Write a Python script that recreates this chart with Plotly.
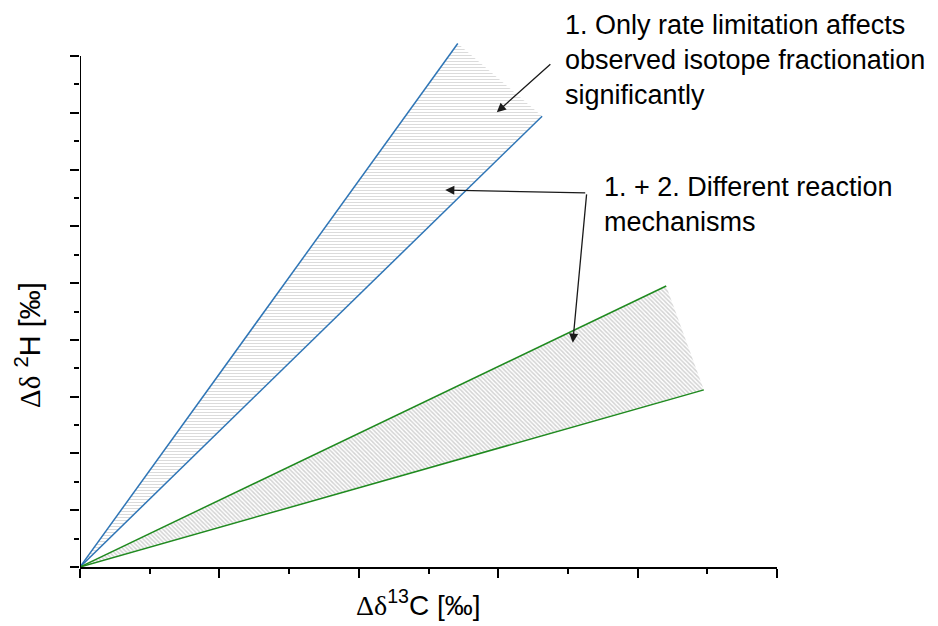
import plotly.graph_objects as go

# Line end points (data units: x = Δδ13C, y = Δδ2H)
blue_upper_end = [5.42, 9.22]
blue_lower_end = [6.63, 7.94]
green_upper_end = [8.41, 4.95]
green_lower_end = [8.95, 3.12]
origin = [0.0, 0.0]

BLUE = "#2e75b6"
GREEN = "#1f8a1f"
SANS = "Liberation Sans, Arial, sans-serif"
DD = "<span style=\"font-family:'Liberation Serif'\">Δδ</span>"

# page body has an 8px margin; figure is sized so it fits the 938x626 window
W, H = 930, 618
L, T = 72, 31
PW, PH = 697, 528

fig = go.Figure()

# hatched fill regions
fig.add_trace(go.Scatter(
    x=[origin[0], blue_upper_end[0], blue_lower_end[0], origin[0]],
    y=[origin[1], blue_upper_end[1], blue_lower_end[1], origin[1]],
    mode="lines", fill="toself", line=dict(width=0),
    fillcolor="rgba(0,0,0,0)",
    fillpattern=dict(shape="-", size=3, solidity=0.34, fgcolor="#b8b8b8", bgcolor="white"),
    hoverinfo="skip", showlegend=False))
fig.add_trace(go.Scatter(
    x=[origin[0], green_upper_end[0], green_lower_end[0], origin[0]],
    y=[origin[1], green_upper_end[1], green_lower_end[1], origin[1]],
    mode="lines", fill="toself", line=dict(width=0),
    fillcolor="rgba(0,0,0,0)",
    fillpattern=dict(shape="\\", size=3, solidity=0.5, fgcolor="#a8a8a8", bgcolor="white"),
    hoverinfo="skip", showlegend=False))

for end, col in [(blue_upper_end, BLUE), (blue_lower_end, BLUE),
                 (green_upper_end, GREEN), (green_lower_end, GREEN)]:
    fig.add_trace(go.Scatter(x=[origin[0], end[0]], y=[origin[1], end[1]],
                             mode="lines", line=dict(color=col, width=1.5),
                             hoverinfo="skip", showlegend=False))

arrow = dict(axref="x", ayref="y", xref="x", yref="y", showarrow=True, arrowhead=2,
             arrowsize=1.4, arrowwidth=1.3, arrowcolor="#1a1a1a", text="")
annotations = [
    dict(x=5.98, y=8.01, ax=6.77, ay=8.88, **arrow),
    dict(x=5.24, y=6.64, ax=7.27, ay=6.59, **arrow),
    dict(x=7.07, y=3.95, ax=7.27, ay=6.59, **arrow),
    dict(x=6.93, y=8.93, xref="x", yref="y", xanchor="left", yanchor="middle", align="left",
         showarrow=False, font=dict(size=27, color="black", family=SANS),
         text="1. Only rate limitation affects<br>observed isotope fractionation<br>significantly"),
    dict(x=7.49, y=6.39, xref="x", yref="y", xanchor="left", yanchor="middle", align="left",
         showarrow=False, font=dict(size=27, color="black", family=SANS),
         text="1. + 2. Different reaction<br>mechanisms"),
    # axis titles (screen coords converted to paper fractions)
    dict(x=(418 - 80) / PW, y=-(603 - 567) / PH, xref="paper", yref="paper",
         xanchor="center", yanchor="middle", showarrow=False,
         font=dict(size=28, color="black", family=SANS),
         text=DD + "<sup>13</sup>C [‰]"),
    dict(x=-(80 - 28) / PW, y=(567 - 345) / PH, xref="paper", yref="paper",
         xanchor="center", yanchor="middle", showarrow=False, textangle=-90,
         font=dict(size=29, color="black", family=SANS),
         text=DD + " <sup>2</sup>H [‰]"),
]

# y axis line only up to the top major tick
shapes = [dict(type="line", xref="x", yref="y", x0=0, x1=0, y0=0, y1=9,
               line=dict(color="black", width=2))]

fig.update_layout(
    width=W, height=H,
    margin=dict(l=L, r=W - L - PW, t=T, b=H - T - PH, autoexpand=False),
    plot_bgcolor="white", paper_bgcolor="white",
    showlegend=False,
    annotations=annotations, shapes=shapes,
    xaxis=dict(range=[0, 10], showgrid=False, zeroline=False, showline=True,
               linecolor="black", linewidth=2, ticks="outside", ticklen=9, tickwidth=2,
               tickcolor="black", dtick=2, tick0=0, showticklabels=False,
               minor=dict(dtick=1, tick0=0, ticks="outside", ticklen=5, tickwidth=2,
                          tickcolor="black", showgrid=False)),
    yaxis=dict(range=[0, 9.3], showgrid=False, zeroline=False, showline=False,
               ticks="outside", ticklen=9, tickwidth=2, tickcolor="black",
               dtick=1, tick0=0, showticklabels=False,
               minor=dict(dtick=0.5, tick0=0, ticks="outside", ticklen=5, tickwidth=2,
                          tickcolor="black", showgrid=False)),
)

fig.write_html("out.html")
